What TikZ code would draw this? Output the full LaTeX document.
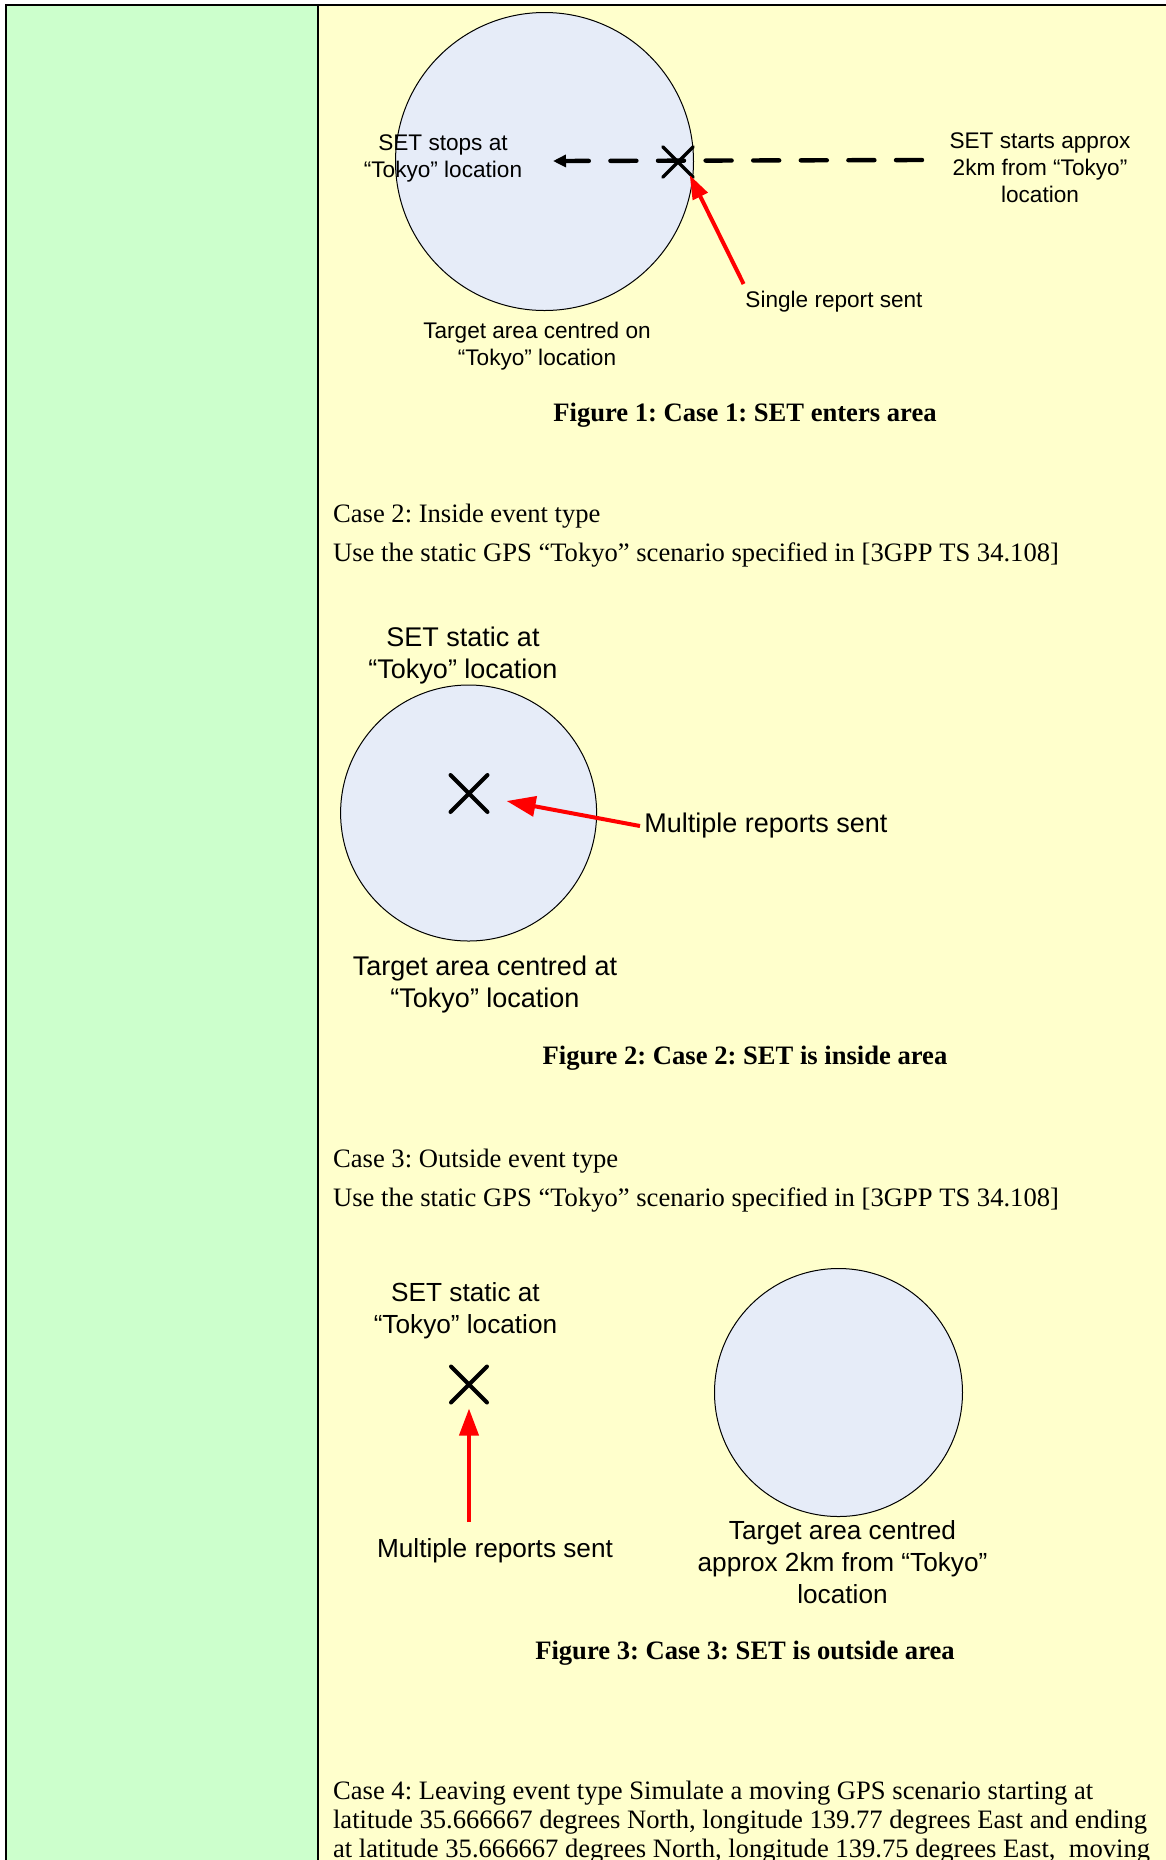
\documentclass[tikz,border=0pt]{standalone}
\usepackage{fontspec}
\setmainfont{Liberation Serif}
\setsansfont{Liberation Sans}
\usepackage{tikz}
\usetikzlibrary{arrows.meta, shapes.misc}
\usepackage{xcolor}
\frenchspacing
\definecolor{cellgreen}{HTML}{CCFFCC}
\definecolor{cellyellow}{HTML}{FFFFCC}
\definecolor{areablue}{HTML}{E6ECF8}
\tikzset{
    area/.style={circle, draw=black, line width=0.5pt, fill=areablue, inner sep=0pt},
    setmark/.style={cross out, draw=black, line width=1.7pt, line cap=round, inner sep=0pt},
    lblone/.style={font=\sffamily\fontsize{11.3}{13.5}\selectfont, align=center, inner sep=2pt},
    lbltwo/.style={font=\sffamily\fontsize{13.5}{16}\selectfont, align=center, inner sep=2pt},
    lblthree/.style={font=\sffamily\fontsize{13.1}{16}\selectfont, align=center, inner sep=2pt},
    body/.style={anchor=base west, inner sep=0pt, font=\fontsize{13.3}{14.5}\selectfont},
    figcaption/.style={anchor=base, inner sep=0pt, font=\fontsize{13.3}{14.5}\selectfont\bfseries},
    report/.style={draw=red, line width=2pt}
}

\begin{document}
\begin{tikzpicture}[x=0.5pt, y=-0.5pt]
    \useasboundingbox (0,0) rectangle (1166,1860);
    % Table Cells
    \fill [white] (0,0) rectangle (1166,1860);
    \fill [cellgreen] (6,5) rectangle (318,1860);
    \fill [cellyellow] (318,5) rectangle (1166,1860);
    \draw [line width=1pt] (6,1860) -- (6,5) -- (1166,5);
    \draw [line width=1pt] (318,5) -- (318,1860);

    % Case 1: Enters Area
    \node [area, minimum size=149pt] (area1) at (544.5,161.5) {};
    \coordinate (start1) at (922,160);
    \coordinate (stop1) at (553,161);
    \draw [line width=2.2pt, line cap=round, dash pattern=on 13pt off 10.8pt,
        -{Triangle[length=6.5pt, width=6pt]}] (start1) -- (stop1);
    \node [setmark, minimum size=13.5pt] (set1) at (678,162) {};
    \node [lblone] (stops1) at (443,158) {SET stops at\\“Tokyo” location};
    \node [lblone] (starts1) at (1040,168) {SET starts approx\\2km from “Tokyo”\\location};
    \node [lblone] (single1) at (834,302) {Single report sent};
    \coordinate (tail1) at (743.6,284);
    \coordinate (hit1) at (689.7,175);
    \draw [report, -{Triangle[length=12pt, width=8pt]}] (tail1) -- (hit1);
    \node [lblone] (target1) at (537,346) {Target area centred on\\“Tokyo” location};
    \node [figcaption] (fig1) at (745,421) {Figure 1: Case 1: SET enters area};

    % Case 2: Inside Area
    \node [body] (case2) at (332.7,522) {Case 2: Inside event type};
    \node [body] (use2) at (332.7,561.4) {Use the static GPS “Tokyo” scenario specified in [3GPP TS 34.108]};
    \node [lbltwo] (static2) at (463,656) {SET static at\\“Tokyo” location};
    \node [area, minimum size=128pt] (area2) at (468.6,813) {};
    \node [setmark, minimum size=16.5pt, line width=2pt] (set2) at (469,793.5) {};
    \node [lbltwo, anchor=west] (multi2) at (640,826) {Multiple reports sent};
    \coordinate (hit2) at (506.6,801);
    \draw [report, -{Triangle[length=14.5pt, width=10pt]}] (multi2.west) -- (hit2);
    \node [lbltwo] (target2) at (485,985) {Target area centred at\\“Tokyo” location};
    \node [figcaption] (fig2) at (745,1064.6) {Figure 2: Case 2: SET is inside area};

    % Case 3: Outside Area
    \node [body] (case3) at (332.7,1167.3) {Case 3: Outside event type};
    \node [body] (use3) at (332.7,1206.7) {Use the static GPS “Tokyo” scenario specified in [3GPP TS 34.108]};
    \node [lblthree] (static3) at (465.5,1311) {SET static at\\“Tokyo” location};
    \node [setmark, minimum size=16pt, line width=2pt] (set3) at (469,1384.5) {};
    \node [lblthree] (multi3) at (495,1551) {Multiple reports sent};
    \coordinate (tail3) at (469,1522);
    \draw [report, shorten >=3pt, -{Triangle[length=13.5pt, width=9.5pt]}] (tail3) -- (set3.south);
    \node [area, minimum size=124pt] (area3) at (838.5,1392.5) {};
    \node [lblthree] (target3) at (842.5,1562) {Target area centred\\approx 2km from “Tokyo”\\location};
    \node [figcaption] (fig3) at (745,1659) {Figure 3: Case 3: SET is outside area};

    % Case 4: Leaving Area
    \node [body] (case4) at (332.7,1799.3) {Case 4: Leaving event type Simulate a moving GPS scenario starting at};
    \node [body] (lat4) at (332.7,1828.3) {latitude 35.666667 degrees North, longitude 139.77 degrees East and ending};
    \node [body] (lon4) at (332.7,1857) {at latitude 35.666667 degrees North, longitude 139.75 degrees East,\ \ moving};
\end{tikzpicture}
\end{document}
